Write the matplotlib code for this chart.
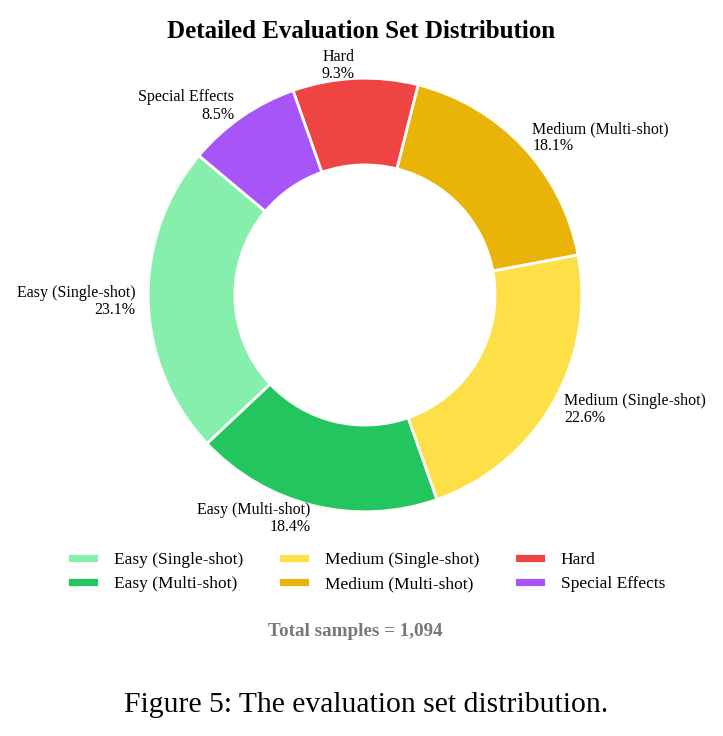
import matplotlib.pyplot as plt

plt.rcParams['font.family'] = ['Liberation Serif', 'DejaVu Serif']

# counts per category (total 1,094)
categories = ['Easy (Single-shot)', 'Easy (Multi-shot)', 'Medium (Single-shot)',
              'Medium (Multi-shot)', 'Hard', 'Special Effects']
counts = [253, 201, 247, 198, 102, 93]
colors = ['#86efac', '#22c55e', '#fde047', '#eab308', '#ef4444', '#a855f7']

total = sum(counts)
labels = [f"{c}\n{n / total * 100:.1f}%" for c, n in zip(categories, counts)]

fig = plt.figure(figsize=(7.23, 7.36), dpi=100)
ax = fig.add_axes([94 / 723, 170 / 736, 542 / 723, 542 / 736])

wedges, texts = ax.pie(counts, labels=labels, colors=colors, startangle=140,
                       labeldistance=1.06,
                       wedgeprops=dict(width=0.4, edgecolor='white', linewidth=2),
                       textprops=dict(fontsize=11.5, linespacing=1.1))
ax.set_aspect('equal')

fig.text(0.5, 1 - 31 / 736, 'Detailed Evaluation Set Distribution',
         ha='center', va='center', fontsize=18, fontweight='bold')

fig.legend(wedges, categories, loc='center', bbox_to_anchor=(366 / 723, 1 - 572 / 736),
           ncol=3, frameon=False, fontsize=12.5, columnspacing=2.0,
           handlelength=1.85, handleheight=0.5, handletextpad=0.86, labelspacing=0.45)

fig.text(355 / 723, 1 - 631 / 736, f'Total samples = {total:,}', ha='center', va='center',
         fontsize=13.7, fontweight='bold', color='#777777')

fig.text(366 / 723, 1 - 705 / 736, 'Figure 5: The evaluation set distribution.',
         ha='center', va='center', fontsize=21.3)

fig.savefig('out.png', dpi=100)
